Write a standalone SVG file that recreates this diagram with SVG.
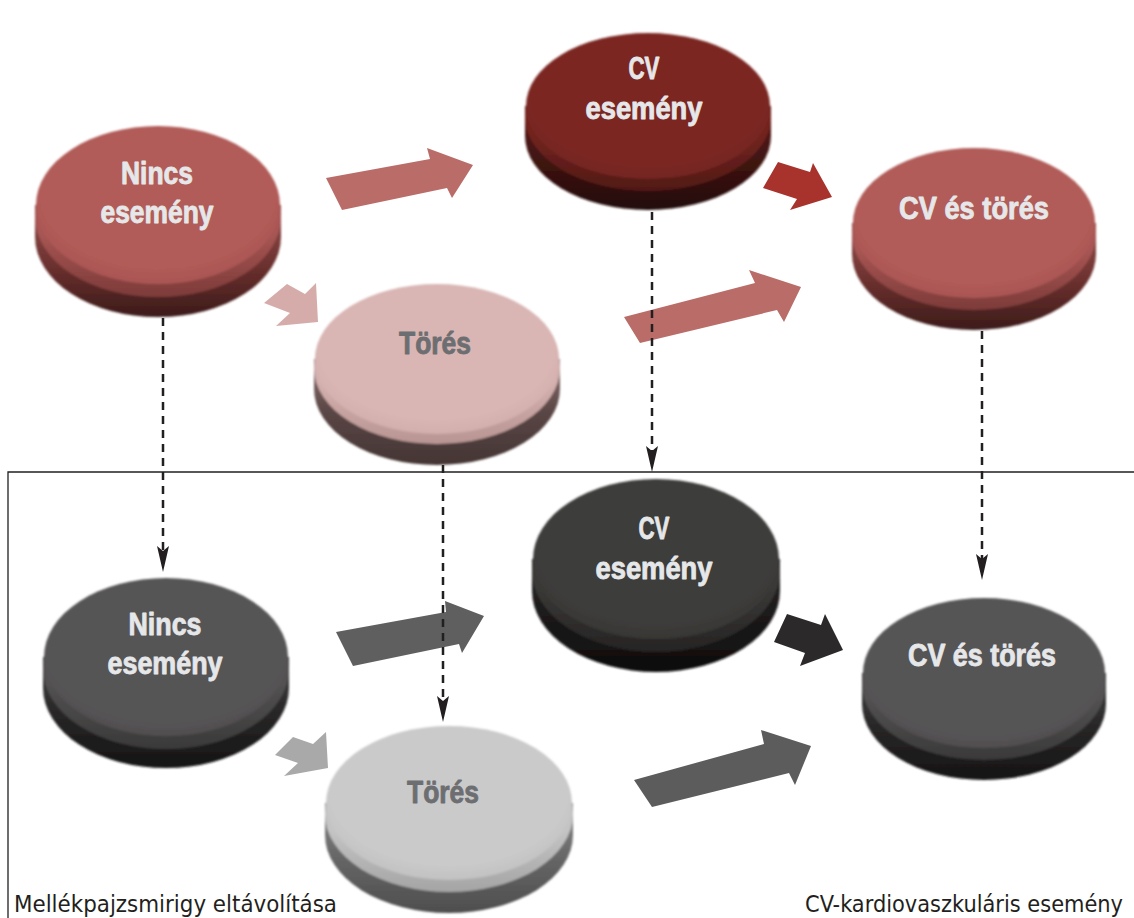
<svg xmlns="http://www.w3.org/2000/svg" width="1134" height="918" viewBox="0 0 1134 918">
<defs>
<style>
.lbl{font-family:"Liberation Sans Narrow","Liberation Sans",Arial,sans-serif;font-weight:bold;font-size:32px;text-anchor:middle;stroke-width:0.9;stroke-linejoin:round}
.lt{fill:#e6e7e9;stroke:#e6e7e9}
.dk{fill:#6d6e71;stroke:#6d6e71}
.dash{fill:none;stroke:#231f20;stroke-width:2.5;stroke-dasharray:8 6}
.cap{font-family:"DejaVu Sans Condensed","DejaVu Sans",sans-serif;font-size:23px;fill:#231f20}
.frame{fill:none;stroke:#231f20;stroke-width:1.3}
.shape{filter:url(#soft)}
</style>
<filter id="soft" x="-5%" y="-5%" width="110%" height="110%"><feGaussianBlur stdDeviation="1"/></filter>
<marker id="ah" markerUnits="userSpaceOnUse" markerWidth="26" markerHeight="14" viewBox="0 0 26 14" refX="16" refY="7" orient="auto"><path d="M0,1 L26,7 L0,13 L5,7 Z" fill="#231f20"/></marker>
<linearGradient id="sR" x1="0" y1="0" x2="0" y2="1"><stop offset="0" stop-color="#94504d"/><stop offset="0.55" stop-color="#6b302e"/><stop offset="1" stop-color="#3c1b1a"/></linearGradient>
<linearGradient id="rR" x1="0" y1="0" x2="0" y2="1"><stop offset="0.6" stop-color="#a85654"/><stop offset="1" stop-color="#7d3b39"/></linearGradient>
<radialGradient id="tR" cx="0.5" cy="0.42" r="0.6"><stop offset="0.8" stop-color="#b15b58"/><stop offset="1" stop-color="#a85553"/></radialGradient>
<linearGradient id="sD" x1="0" y1="0" x2="0" y2="1"><stop offset="0" stop-color="#5e1d1a"/><stop offset="0.55" stop-color="#3e1311"/><stop offset="1" stop-color="#230b0a"/></linearGradient>
<linearGradient id="rD" x1="0" y1="0" x2="0" y2="1"><stop offset="0.6" stop-color="#74241f"/><stop offset="1" stop-color="#521916"/></linearGradient>
<radialGradient id="tD" cx="0.5" cy="0.42" r="0.6"><stop offset="0.8" stop-color="#7b2722"/><stop offset="1" stop-color="#732420"/></radialGradient>
<linearGradient id="sP" x1="0" y1="0" x2="0" y2="1"><stop offset="0" stop-color="#8d7372"/><stop offset="0.5" stop-color="#5a4645"/><stop offset="1" stop-color="#443534"/></linearGradient>
<linearGradient id="rP" x1="0" y1="0" x2="0" y2="1"><stop offset="0.6" stop-color="#d3b0ae"/><stop offset="1" stop-color="#b89593"/></linearGradient>
<radialGradient id="tP" cx="0.5" cy="0.42" r="0.6"><stop offset="0.8" stop-color="#d9b6b4"/><stop offset="1" stop-color="#d0adab"/></radialGradient>
<linearGradient id="sG" x1="0" y1="0" x2="0" y2="1"><stop offset="0" stop-color="#444343"/><stop offset="0.55" stop-color="#262525"/><stop offset="1" stop-color="#151414"/></linearGradient>
<linearGradient id="rG" x1="0" y1="0" x2="0" y2="1"><stop offset="0.6" stop-color="#525151"/><stop offset="1" stop-color="#3a3939"/></linearGradient>
<radialGradient id="tG" cx="0.5" cy="0.42" r="0.6"><stop offset="0.8" stop-color="#575556"/><stop offset="1" stop-color="#4f4d4e"/></radialGradient>
<linearGradient id="sK" x1="0" y1="0" x2="0" y2="1"><stop offset="0" stop-color="#2c2a2a"/><stop offset="0.55" stop-color="#1a1818"/><stop offset="1" stop-color="#0e0d0d"/></linearGradient>
<linearGradient id="rK" x1="0" y1="0" x2="0" y2="1"><stop offset="0.6" stop-color="#3a3837"/><stop offset="1" stop-color="#262424"/></linearGradient>
<radialGradient id="tK" cx="0.5" cy="0.42" r="0.6"><stop offset="0.8" stop-color="#3e3c3b"/><stop offset="1" stop-color="#373534"/></radialGradient>
<linearGradient id="sL" x1="0" y1="0" x2="0" y2="1"><stop offset="0" stop-color="#8a8a8a"/><stop offset="0.5" stop-color="#666666"/><stop offset="1" stop-color="#4e4e4e"/></linearGradient>
<linearGradient id="rL" x1="0" y1="0" x2="0" y2="1"><stop offset="0.6" stop-color="#c4c4c4"/><stop offset="1" stop-color="#a5a5a5"/></linearGradient>
<radialGradient id="tL" cx="0.5" cy="0.42" r="0.6"><stop offset="0.8" stop-color="#cacaca"/><stop offset="1" stop-color="#c0c0c0"/></radialGradient>
</defs>
<rect width="1134" height="918" fill="#ffffff"/>
<path class="frame" d="M1134,472 H8 V918"/>

<g id="node-top-nincs">
<g class="shape">
<path d="M35,205 V237 A123,80 0 0 0 281,237 V205 Z" fill="url(#sR)"/>
<ellipse cx="158" cy="217" rx="123" ry="80" fill="url(#rR)"/>
<ellipse cx="158" cy="205" rx="122" ry="79" fill="url(#tR)"/>
</g>
<text class="lbl lt" x="157" y="184" textLength="72" lengthAdjust="spacingAndGlyphs">Nincs</text>
<text class="lbl lt" x="157" y="223" textLength="113" lengthAdjust="spacingAndGlyphs">esemény</text>
</g>

<g id="node-top-cv">
<g class="shape">
<path d="M525,106 V136 A123,74 0 0 0 771,136 V106 Z" fill="url(#sD)"/>
<ellipse cx="648" cy="117" rx="123" ry="74" fill="url(#rD)"/>
<ellipse cx="648" cy="106" rx="122" ry="73" fill="url(#tD)"/>
</g>
<text class="lbl lt" x="644" y="79" textLength="31" lengthAdjust="spacingAndGlyphs">CV</text>
<text class="lbl lt" x="644" y="119" textLength="117" lengthAdjust="spacingAndGlyphs">esemény</text>
</g>

<g id="node-top-cvtores">
<g class="shape">
<path d="M852,223 V254 A122,76 0 0 0 1096,254 V223 Z" fill="url(#sR)"/>
<ellipse cx="974" cy="234" rx="122" ry="76" fill="url(#rR)"/>
<ellipse cx="974" cy="223" rx="121" ry="75" fill="url(#tR)"/>
</g>
<text class="lbl lt" x="974" y="219" textLength="150" lengthAdjust="spacingAndGlyphs">CV és törés</text>
</g>

<g id="node-top-tores">
<g class="shape">
<path d="M314,359 V389 A123,76 0 0 0 560,389 V359 Z" fill="url(#sP)"/>
<ellipse cx="437" cy="368" rx="123" ry="76" fill="url(#rP)"/>
<ellipse cx="437" cy="359" rx="122" ry="75" fill="url(#tP)"/>
</g>
<text class="lbl dk" x="435" y="354" textLength="72" lengthAdjust="spacingAndGlyphs">Törés</text>
</g>

<g id="node-bot-nincs">
<g class="shape">
<path d="M43,657 V688 A123,80 0 0 0 289,688 V657 Z" fill="url(#sG)"/>
<ellipse cx="166" cy="669" rx="123" ry="80" fill="url(#rG)"/>
<ellipse cx="166" cy="657" rx="122" ry="79" fill="url(#tG)"/>
</g>
<text class="lbl lt" x="165" y="635" textLength="73" lengthAdjust="spacingAndGlyphs">Nincs</text>
<text class="lbl lt" x="165" y="674" textLength="115" lengthAdjust="spacingAndGlyphs">esemény</text>
</g>

<g id="node-bot-cv">
<g class="shape">
<path d="M532,559 V591 A124,81 0 0 0 780,591 V559 Z" fill="url(#sK)"/>
<ellipse cx="656" cy="571" rx="124" ry="81" fill="url(#rK)"/>
<ellipse cx="656" cy="559" rx="123" ry="80" fill="url(#tK)"/>
</g>
<text class="lbl lt" x="654" y="539" textLength="31" lengthAdjust="spacingAndGlyphs">CV</text>
<text class="lbl lt" x="654" y="579" textLength="117" lengthAdjust="spacingAndGlyphs">esemény</text>
</g>

<g id="node-bot-cvtores">
<g class="shape">
<path d="M862,673 V704 A122,76 0 0 0 1106,704 V673 Z" fill="url(#sG)"/>
<ellipse cx="984" cy="684" rx="122" ry="76" fill="url(#rG)"/>
<ellipse cx="984" cy="673" rx="121" ry="75" fill="url(#tG)"/>
</g>
<text class="lbl lt" x="982" y="666" textLength="148" lengthAdjust="spacingAndGlyphs">CV és törés</text>
</g>

<g id="node-bot-tores">
<g class="shape">
<path d="M325,803 V835 A124,78 0 0 0 573,835 V803 Z" fill="url(#sL)"/>
<ellipse cx="449" cy="814" rx="124" ry="78" fill="url(#rL)"/>
<ellipse cx="449" cy="803" rx="123" ry="77" fill="url(#tL)"/>
</g>
<text class="lbl dk" x="443" y="803" textLength="72" lengthAdjust="spacingAndGlyphs">Törés</text>
</g>

<g id="connectors">
<polygon points="326,178 430,159 427,148 473,165 452,198 447,188 342,210" fill="#b96c68"/>
<polygon points="264,303 287,284 305,294 316,283 318,322 276,326 290,313" fill="#d6acab"/>
<polygon points="763,188 778,162 810,172 813,163 832,197 790,210 797,199" fill="#a8332d"/>
<polygon points="624,317 755,283 749,270 801,287 784,322 777,310 640,343" fill="#b96c68"/>
<polygon points="336,632 446,612 445,601 484,616 462,653 459,644 353,666" fill="#5f5f5f"/>
<polygon points="275,755 293,737 313,744 326,732 328,768 284,776 298,763" fill="#a9a9a9"/>
<polygon points="774,642 787,614 821,625 825,614 843,650 800,666 805,653" fill="#2b2929"/>
<polygon points="634,780 764,744 761,730 811,746 795,785 789,773 652,807" fill="#5c5c5c"/>
<path class="dash" d="M163,318 V562" marker-end="url(#ah)"/>
<path class="dash" d="M443,465 V712" marker-end="url(#ah)"/>
<path class="dash" d="M652,212 V462" marker-end="url(#ah)"/>
<path class="dash" d="M982,331 V570" marker-end="url(#ah)"/>
</g>

<text class="cap" x="14" y="912" textLength="323" lengthAdjust="spacingAndGlyphs">Mellékpajzsmirigy eltávolítása</text>
<text class="cap" x="805" y="912" textLength="318" lengthAdjust="spacingAndGlyphs">CV-kardiovaszkuláris esemény</text>
</svg>
